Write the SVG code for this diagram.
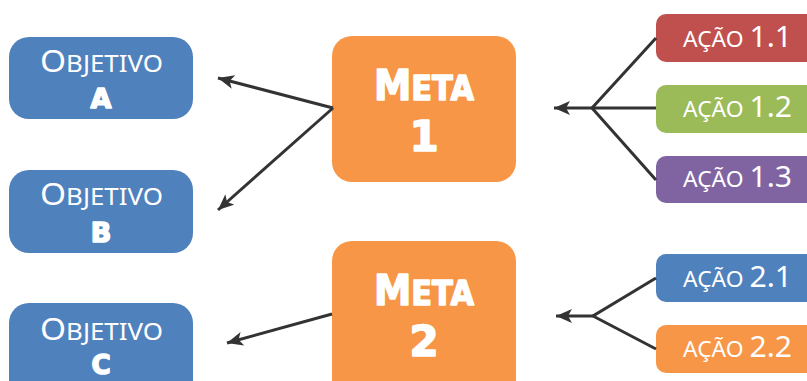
<svg xmlns="http://www.w3.org/2000/svg" width="807" height="381" viewBox="0 0 807 381">
<defs>
<style>
.obj{fill:#4F81BD}
.meta{fill:#F79646}
.t{fill:#fff;font-family:"Noto Sans","DejaVu Sans",sans-serif}
.b{fill:#fff;stroke:#fff;stroke-width:1.6;stroke-linejoin:round;font-family:"DejaVu Sans","Liberation Sans",sans-serif;font-weight:bold;text-anchor:middle}
.c{stroke:#333;stroke-width:3;fill:none}
</style>
<marker id="ah" markerUnits="userSpaceOnUse" markerWidth="18" markerHeight="16" refX="16" refY="7" orient="auto" viewBox="0 0 18 16">
<path d="M0,0 L16,7 L0,14 L4,7 Z" fill="#333"/>
</marker>
</defs>
<rect width="807" height="381" fill="#fff"/>
<g id="objetivo-a">
<rect class="obj" x="9" y="37" width="184" height="82" rx="20"/>
<text class="t" x="40" y="72" textLength="123" lengthAdjust="spacingAndGlyphs"><tspan font-size="31">O</tspan><tspan font-size="24">BJETIVO</tspan></text>
<text class="b" x="101" y="108" font-size="27">A</text>
</g>
<g id="objetivo-b">
<rect class="obj" x="9" y="170" width="184" height="83" rx="20"/>
<text class="t" x="40" y="205" textLength="123" lengthAdjust="spacingAndGlyphs"><tspan font-size="31">O</tspan><tspan font-size="24">BJETIVO</tspan></text>
<text class="b" x="101" y="242" font-size="27">B</text>
</g>
<g id="objetivo-c">
<rect class="obj" x="9" y="303" width="184" height="100" rx="20"/>
<text class="t" x="40" y="340" textLength="123" lengthAdjust="spacingAndGlyphs"><tspan font-size="31">O</tspan><tspan font-size="24">BJETIVO</tspan></text>
<text class="b" x="101" y="374" font-size="26">C</text>
</g>
<g id="meta-1">
<rect class="meta" x="332" y="36" width="184" height="146" rx="20"/>
<text class="b" x="424" y="100" textLength="100" lengthAdjust="spacingAndGlyphs"><tspan font-size="42">M</tspan><tspan font-size="34">ETA</tspan></text>
<text class="b" x="424" y="151" font-size="42">1</text>
</g>
<g id="meta-2">
<rect class="meta" x="332" y="241" width="184" height="160" rx="20"/>
<text class="b" x="424" y="305" textLength="100" lengthAdjust="spacingAndGlyphs"><tspan font-size="42">M</tspan><tspan font-size="34">ETA</tspan></text>
<text class="b" x="424" y="356" font-size="42">2</text>
</g>
<g id="acao-1-1">
<rect x="656" y="14" width="170" height="48" rx="10" fill="#C0504D"/>
<text class="t" x="683" y="47" textLength="109" lengthAdjust="spacingAndGlyphs"><tspan font-size="22">AÇÃO </tspan><tspan font-size="29">1.1</tspan></text>
</g>
<g id="acao-1-2">
<rect x="656" y="85" width="170" height="48" rx="10" fill="#9BBB59"/>
<text class="t" x="683" y="117" textLength="109" lengthAdjust="spacingAndGlyphs"><tspan font-size="22">AÇÃO </tspan><tspan font-size="29">1.2</tspan></text>
</g>
<g id="acao-1-3">
<rect x="656" y="156" width="170" height="47" rx="10" fill="#8064A2"/>
<text class="t" x="683" y="187" textLength="109" lengthAdjust="spacingAndGlyphs"><tspan font-size="22">AÇÃO </tspan><tspan font-size="29">1.3</tspan></text>
</g>
<g id="acao-2-1">
<rect x="656" y="254" width="170" height="48" rx="10" fill="#4F81BD"/>
<text class="t" x="683" y="287" textLength="109" lengthAdjust="spacingAndGlyphs"><tspan font-size="22">AÇÃO </tspan><tspan font-size="29">2.1</tspan></text>
</g>
<g id="acao-2-2">
<rect x="656" y="325" width="170" height="48" rx="10" fill="#F79646"/>
<text class="t" x="683" y="357" textLength="109" lengthAdjust="spacingAndGlyphs"><tspan font-size="22">AÇÃO </tspan><tspan font-size="29">2.2</tspan></text>
</g>
<g id="connectors">
<line class="c" x1="333" y1="108" x2="218" y2="78" marker-end="url(#ah)"/>
<line class="c" x1="333" y1="108" x2="218" y2="210" marker-end="url(#ah)"/>
<line class="c" x1="332" y1="314" x2="227" y2="343" marker-end="url(#ah)"/>
<polyline class="c" points="656,38 592,108 656,180"/>
<line class="c" x1="656" y1="108" x2="554" y2="108" marker-end="url(#ah)"/>
<polyline class="c" points="656,278 593,316 656,349"/>
<line class="c" x1="593" y1="316" x2="556" y2="316" marker-end="url(#ah)"/>
</g>
</svg>
